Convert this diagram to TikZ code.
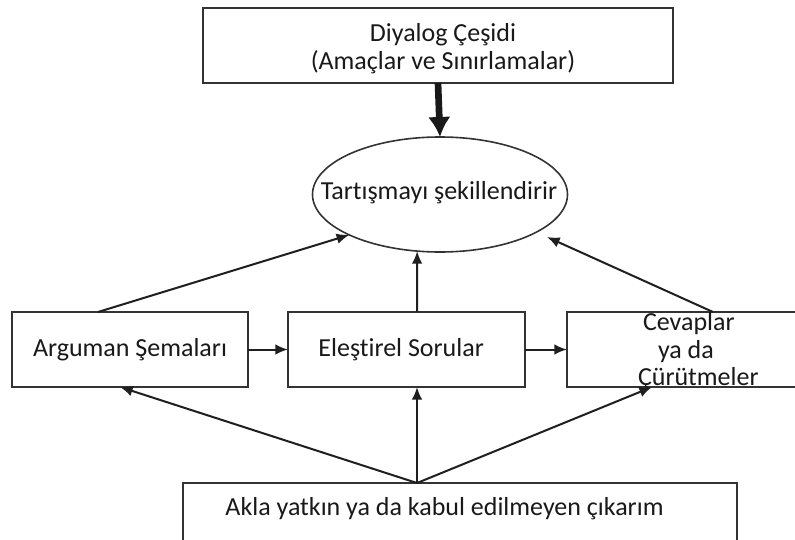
\documentclass[tikz,border=0pt]{standalone}
\usepackage{fontspec}
\setmainfont{Carlito}[Ligatures=NoCommon]
\usetikzlibrary{arrows.meta,calc,shapes.geometric}
\begin{document}
\begin{tikzpicture}[x=0.75pt,y=-0.75pt,
  every node/.style={font=\fontsize{19.5pt}{20.6pt}\selectfont, text=black!90, inner sep=0pt, outer sep=0pt},
  boxstyle/.style={draw=black!80, line width=1.2pt, rectangle},
  arr/.style={draw=black!88, line width=1.5pt, -{Latex[length=9.5pt,width=8pt]}},
  thickarr/.style={draw=black!90, line width=5pt, -{Latex[length=15pt,width=17pt]}}]
\useasboundingbox (0,0) rectangle (795,539);
\clip (0,0) rectangle (795,539);
\fill[white] (0,0) rectangle (795,539);
% boxes
\node[boxstyle, minimum width=352.5pt, minimum height=56.25pt] (T) at (438,45.5) {};
\node[align=center] (Tt) at (443,48.5) {Diyalog Çeşidi\\ (Amaçlar ve Sınırlamalar)};
\node[draw=black!80, line width=1.2pt, ellipse, minimum width=191.25pt, minimum height=86.25pt] (E) at (440,194.5) {};
\node (Et) at (439,193) {Tartışmayı şekillendirir};
\node[boxstyle, minimum width=177pt, minimum height=56.25pt] (L) at (130,349.5) {Arguman Şemaları};
\node[boxstyle, minimum width=177.75pt, minimum height=56.25pt] (M) at (406.5,349.5) {\hspace*{-8pt}Eleştirel Sorular};
\node[boxstyle, minimum width=186pt, minimum height=56.25pt] (R) at (691,349.5) {};
\node[anchor=west, align=left] (Rt) at (638,351.5)
  {\hspace*{3.75pt}Cevaplar\\ \hspace*{15pt}ya da\\ Çürütmeler};
\node[boxstyle, minimum width=415.5pt, minimum height=57pt] (B) at (460,521) {};
\node (Bt) at (444.5,509) {Akla yatkın ya da kabul edilmeyen çıkarım};
% coordinates
\coordinate (b0) at ($(B.north west)+(234,0)$);
\coordinate (rt) at (547,237);
% arrows
\draw[thickarr] (T.south) -- (E.north);
\draw[arr] ($(L.north west)+(86,0)$) -- (E.204);
\draw[arr] ($(M.north west)+(129,0)$) -- (E.248);
\draw[arr] ($(R.north west)+(146,0)$) -- (rt);
\draw[arr] (L.east) -- (M.west);
\draw[arr] (M.east) -- (R.west);
\draw[arr] (b0) -- ($(L.south west)+(108,0)$);
\draw[arr] (b0) -- ($(M.south west)+(129,0)$);
\draw[arr] (b0) -- ($(R.south west)+(85,0)$);
\end{tikzpicture}
\end{document}
